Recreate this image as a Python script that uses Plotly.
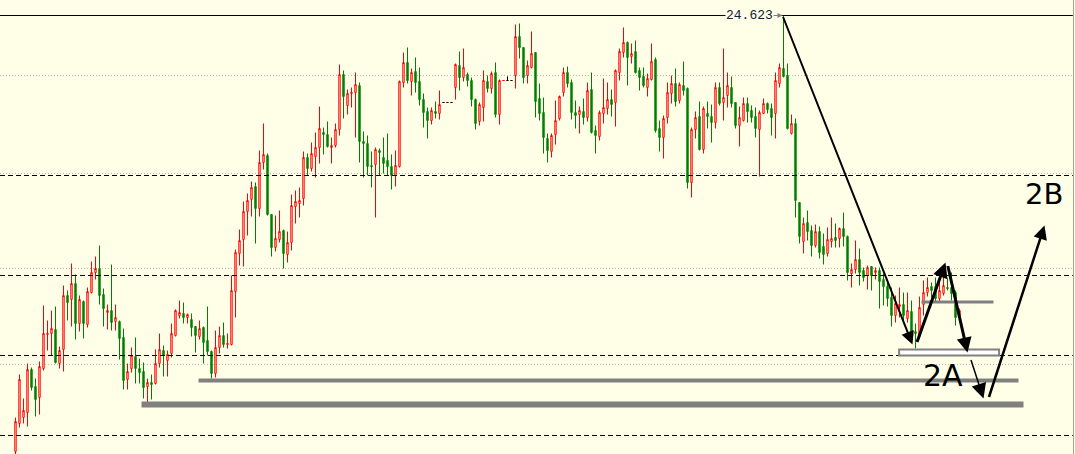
import plotly.graph_objects as go

BG = "#FFFFE8"
UP = "#FF0000"
DOWN = "#008000"

# ---- candle data (XAGUSD-like) ----
opens = [
    20.263, 20.543, 20.603, 20.653, 21.083, 20.913, 20.803, 21.093, 21.433, 21.443,
    21.483, 21.143, 21.283, 21.823, 21.783, 21.943, 21.543, 21.763, 21.533, 21.853,
    22.053, 22.093, 21.833, 21.653, 21.673, 21.563, 21.563, 21.403, 20.983, 21.093,
    21.213, 21.093, 21.063, 20.913, 20.953, 20.943, 21.143, 21.273, 21.173, 21.243,
    21.423, 21.623, 21.643, 21.603, 21.583, 21.513, 21.413, 21.503, 21.373, 21.263,
    21.043, 21.303, 21.423, 21.333, 21.333, 21.863, 22.243, 22.383, 22.663, 22.783,
    22.913, 22.693, 23.153, 23.223, 22.633, 22.303, 22.383, 22.473, 22.233, 22.353,
    22.713, 22.743, 22.793, 23.203, 23.093, 23.213, 23.303, 23.453, 23.433, 23.303,
    23.323, 23.483, 24.033, 23.723, 23.843, 23.853, 23.923, 23.363, 23.343, 23.123,
    23.133, 23.273, 23.203, 23.173, 23.113, 23.023, 23.113, 23.953, 24.153, 23.963,
    24.063, 23.963, 23.783, 23.663, 23.573, 23.663, 23.643, 23.753, 23.753, 23.753,
    23.903, 24.123, 24.003, 24.033, 23.973, 23.783, 23.563, 23.703, 23.963, 23.893,
    24.053, 23.633, 23.973, 23.973, 23.973, 24.023, 24.413, 24.303, 24.023, 24.103,
    24.253, 23.793, 23.653, 23.393, 23.263, 23.433, 23.593, 23.853, 24.053, 23.953,
    23.653, 23.633, 23.663, 23.603, 23.883, 23.473, 23.413, 23.643, 23.693, 23.783,
    23.753, 24.053, 24.253, 24.353, 24.213, 24.263, 24.073, 24.013, 23.903, 23.983,
    24.183, 23.493, 23.403, 23.603, 23.843, 23.943, 23.773, 23.923, 23.893, 22.953,
    23.483, 23.613, 23.283, 23.643, 23.613, 23.553, 23.903, 23.753, 23.823, 23.903,
    23.753, 23.523, 23.573, 23.743, 23.673, 23.613, 23.483, 23.643, 23.743, 23.693,
    23.643, 23.943, 24.093, 24.023, 23.443, 23.543, 22.753, 22.363, 22.553, 22.473,
    22.323, 22.463, 22.313, 22.243, 22.363, 22.403, 22.393, 22.493, 22.413, 22.043,
    22.083, 22.183, 22.073, 22.023, 22.113, 22.053, 22.073, 21.983, 21.913, 21.803,
    21.623, 21.713, 21.733, 21.593, 21.663, 21.463, 21.413, 21.733, 21.853, 21.913,
    21.913, 21.793, 21.843, 21.903, 21.903, 21.853, 21.603,
]
highs = [
    20.603, 21.033, 20.793, 21.143, 21.103, 20.993, 21.163, 21.723, 21.573, 21.673,
    21.713, 21.313, 21.923, 21.873, 22.143, 22.033, 21.823, 21.773, 21.903, 22.163,
    22.213, 22.323, 21.893, 21.733, 22.133, 21.733, 21.573, 21.493, 21.143, 21.303,
    21.403, 21.193, 21.153, 20.993, 21.033, 21.283, 21.443, 21.323, 21.273, 21.543,
    21.683, 21.773, 21.753, 21.643, 21.643, 21.513, 21.573, 21.513, 21.713, 21.273,
    21.473, 21.513, 21.553, 21.443, 22.023, 22.283, 22.483, 22.763, 22.843, 22.963,
    22.953, 23.273, 23.543, 23.243, 22.633, 22.623, 22.673, 22.483, 22.463, 22.833,
    22.873, 22.903, 23.263, 23.243, 23.353, 23.453, 23.713, 23.503, 23.563, 23.403,
    23.543, 24.133, 24.073, 23.883, 23.903, 24.053, 23.953, 23.463, 23.423, 23.263,
    23.303, 23.293, 23.403, 23.443, 23.233, 23.273, 23.973, 24.253, 24.303, 24.093,
    24.203, 24.103, 23.843, 23.703, 23.703, 23.763, 23.873, 23.753, 23.753, 23.753,
    24.143, 24.263, 24.293, 24.053, 24.003, 23.793, 23.753, 24.073, 24.023, 24.063,
    24.153, 23.983, 23.973, 24.013, 23.973, 24.533, 24.543, 24.303, 24.173, 24.463,
    24.253, 23.943, 23.803, 23.443, 23.443, 23.773, 23.823, 24.103, 24.113, 23.983,
    23.773, 23.713, 23.793, 23.953, 24.053, 23.523, 23.673, 23.993, 23.953, 23.883,
    24.083, 24.293, 24.503, 24.363, 24.343, 24.373, 24.103, 24.103, 24.043, 24.343,
    24.203, 23.573, 23.623, 23.953, 24.023, 24.093, 23.953, 24.163, 23.903, 23.503,
    23.663, 23.763, 23.713, 23.763, 23.733, 23.953, 23.953, 24.293, 24.053, 24.013,
    23.753, 23.713, 23.803, 23.803, 23.723, 23.703, 23.673, 23.793, 23.753, 23.743,
    24.053, 24.143, 24.623, 24.143, 23.633, 23.593, 22.753, 22.603, 22.673, 22.523,
    22.533, 22.513, 22.443, 22.503, 22.603, 22.543, 22.503, 22.653, 22.423, 22.143,
    22.373, 22.293, 22.103, 22.123, 22.113, 22.103, 22.103, 22.043, 21.973, 21.903,
    21.823, 21.903, 21.853, 21.853, 21.773, 21.543, 21.813, 21.973, 22.003, 21.953,
    22.003, 22.003, 22.043, 21.993, 22.053, 21.873, 21.693,
]
lows = [
    20.193, 20.503, 20.543, 20.513, 20.873, 20.613, 20.633, 21.073, 21.273, 21.223,
    21.143, 21.093, 21.063, 21.573, 21.513, 21.383, 21.463, 21.393, 21.503, 21.843,
    21.983, 21.733, 21.513, 21.483, 21.473, 21.473, 21.183, 20.883, 20.883, 21.053,
    20.943, 20.943, 20.793, 20.753, 20.783, 20.933, 21.103, 21.013, 21.013, 21.203,
    21.413, 21.593, 21.543, 21.543, 21.413, 21.253, 21.383, 21.143, 21.223, 20.993,
    21.003, 21.243, 21.303, 21.293, 21.323, 21.603, 22.123, 22.113, 22.423, 22.613,
    22.343, 22.613, 23.083, 22.623, 22.213, 22.263, 22.353, 22.093, 22.153, 22.273,
    22.543, 22.603, 22.723, 23.023, 23.063, 23.003, 23.143, 23.233, 23.303, 23.143,
    23.303, 23.423, 23.593, 23.633, 23.703, 23.403, 23.153, 23.003, 23.023, 22.903,
    22.603, 23.023, 23.043, 23.023, 22.883, 22.913, 23.103, 23.903, 23.943, 23.823,
    23.853, 23.723, 23.503, 23.393, 23.533, 23.593, 23.583, 23.753, 23.753, 23.753,
    23.783, 23.873, 23.963, 23.913, 23.713, 23.483, 23.523, 23.563, 23.853, 23.843,
    23.603, 23.533, 23.973, 23.973, 23.973, 23.893, 24.193, 23.943, 23.943, 24.093,
    23.603, 23.573, 23.243, 23.153, 23.203, 23.333, 23.573, 23.813, 23.903, 23.583,
    23.493, 23.443, 23.533, 23.563, 23.443, 23.243, 23.373, 23.543, 23.633, 23.613,
    23.513, 23.973, 24.203, 23.923, 24.143, 24.043, 23.873, 23.903, 23.813, 23.973,
    23.453, 23.263, 23.193, 23.543, 23.743, 23.713, 23.743, 23.823, 22.893, 22.803,
    23.393, 23.273, 23.243, 23.493, 23.353, 23.493, 23.723, 23.573, 23.703, 23.703,
    23.493, 23.313, 23.563, 23.553, 23.553, 23.403, 23.013, 23.643, 23.643, 23.423,
    23.393, 23.903, 24.003, 23.483, 23.433, 22.603, 22.343, 22.243, 22.373, 22.213,
    22.303, 22.193, 22.133, 22.213, 22.303, 22.303, 22.303, 22.313, 21.973, 21.903,
    22.043, 21.923, 21.963, 21.883, 21.873, 21.983, 21.693, 21.723, 21.713, 21.513,
    21.553, 21.603, 21.573, 21.553, 21.373, 21.293, 21.393, 21.623, 21.813, 21.803,
    21.753, 21.753, 21.823, 21.873, 21.773, 21.523, 21.553,
]
closes = [
    20.563, 20.983, 20.673, 21.083, 20.903, 20.783, 21.113, 21.443, 21.443, 21.493,
    21.153, 21.273, 21.823, 21.753, 21.943, 21.543, 21.783, 21.543, 21.863, 22.053,
    22.093, 21.823, 21.693, 21.673, 21.553, 21.603, 21.393, 20.973, 21.063, 21.223,
    21.093, 21.053, 20.903, 20.953, 20.933, 21.143, 21.283, 21.223, 21.233, 21.443,
    21.673, 21.653, 21.603, 21.633, 21.503, 21.423, 21.493, 21.353, 21.263, 21.043,
    21.303, 21.423, 21.333, 21.343, 21.873, 22.253, 22.373, 22.663, 22.773, 22.903,
    22.693, 23.153, 23.233, 22.633, 22.303, 22.393, 22.463, 22.243, 22.353, 22.723,
    22.763, 22.773, 23.203, 23.093, 23.243, 23.303, 23.493, 23.433, 23.313, 23.323,
    23.483, 24.033, 23.813, 23.843, 23.853, 23.933, 23.363, 23.343, 23.113, 23.113,
    23.283, 23.253, 23.143, 23.113, 23.023, 23.123, 23.963, 24.153, 23.973, 24.053,
    23.953, 23.783, 23.653, 23.573, 23.673, 23.643, 23.733, 23.753, 23.753, 23.753,
    24.133, 24.003, 24.103, 23.973, 23.783, 23.543, 23.733, 23.973, 23.893, 24.043,
    23.633, 23.973, 23.973, 23.973, 23.973, 24.413, 24.303, 24.003, 24.123, 24.243,
    23.763, 23.643, 23.403, 23.273, 23.423, 23.573, 23.813, 24.053, 23.943, 23.653,
    23.623, 23.673, 23.603, 23.873, 23.453, 23.423, 23.653, 23.703, 23.783, 23.733,
    24.073, 24.263, 24.353, 24.203, 24.243, 24.053, 24.003, 23.923, 23.993, 24.163,
    23.473, 23.403, 23.593, 23.853, 23.943, 23.763, 23.933, 23.873, 22.953, 23.483,
    23.603, 23.283, 23.693, 23.613, 23.553, 23.903, 23.743, 23.803, 23.923, 23.743,
    23.523, 23.603, 23.743, 23.663, 23.603, 23.493, 23.653, 23.743, 23.683, 23.603,
    23.973, 24.103, 24.013, 23.493, 23.543, 22.773, 22.413, 22.543, 22.463, 22.323,
    22.463, 22.253, 22.233, 22.383, 22.393, 22.373, 22.493, 22.413, 22.053, 22.083,
    22.183, 22.053, 22.003, 22.103, 22.023, 22.073, 21.963, 21.913, 21.793, 21.623,
    21.743, 21.733, 21.623, 21.673, 21.453, 21.443, 21.703, 21.853, 21.903, 21.873,
    21.793, 21.873, 21.923, 21.893, 21.843, 21.603, 21.673,
]
# bars where open == close, drawn as flat dashes in their own colour
flat_black = [107, 108, 109, 123, 124]
flat_red = [122]

# ---- levels drawn on the chart ----
high_level = 24.623
high_label = "24.623"
grid_levels = [24.023, 23.043, 22.093, 21.133]      # light dotted
dashed_levels = [23.023, 22.023, 21.223, 20.423]    # black dashed
support_a = 20.973
support_b = 20.733
box_low, box_high = 21.223, 21.283
mid_level = 21.758

x = list(range(len(opens)))

fig = go.Figure()
fig.add_trace(go.Candlestick(
    x=x, open=opens, high=highs, low=lows, close=closes,
    increasing=dict(line=dict(color=UP, width=1), fillcolor=BG),
    decreasing=dict(line=dict(color=DOWN, width=1), fillcolor=DOWN),
    whiskerwidth=0, hoverinfo="skip", showlegend=False,
))
for idx, col in ((flat_black, "#000000"), (flat_red, UP)):
    fig.add_trace(go.Candlestick(
        x=[x[i] for i in idx], open=[opens[i] for i in idx], high=[highs[i] for i in idx],
        low=[lows[i] for i in idx], close=[closes[i] for i in idx],
        increasing=dict(line=dict(color=col, width=1), fillcolor=col),
        decreasing=dict(line=dict(color=col, width=1), fillcolor=col),
        whiskerwidth=0, hoverinfo="skip", showlegend=False,
    ))

shapes = []
for lv in grid_levels:
    shapes.append(dict(type="line", xref="paper", x0=0, x1=0.998, yref="y", y0=lv, y1=lv,
                       line=dict(color="#B8B8B8", width=1, dash="1px,2px"), layer="below"))
for lv in dashed_levels:
    shapes.append(dict(type="line", xref="paper", x0=0, x1=0.998, yref="y", y0=lv, y1=lv,
                       line=dict(color="#000000", width=1, dash="5px,3px")))
shapes.append(dict(type="line", xref="paper", x0=0, x1=0.998, yref="y", y0=high_level, y1=high_level,
                   line=dict(color="#000000", width=1)))
shapes.append(dict(type="line", xref="x", x0=45.75, x1=250.75, yref="y", y0=support_a, y1=support_a,
                   line=dict(color="#808080", width=4)))
shapes.append(dict(type="line", xref="x", x0=31.5, x1=252, yref="y", y0=support_b, y1=support_b,
                   line=dict(color="#808080", width=6)))
shapes.append(dict(type="rect", xref="x", x0=220.9, x1=245.9, yref="y", y0=box_low, y1=box_high,
                   line=dict(color="#808080", width=2), fillcolor="#FFFFFF"))
shapes.append(dict(type="line", xref="x", x0=226.5, x1=244.5, yref="y", y0=mid_level, y1=mid_level,
                   line=dict(color="#808080", width=3)))
shapes.append(dict(type="line", xref="paper", x0=0.9986, x1=0.9986, yref="paper", y0=0, y1=1,
                   line=dict(color="#A0A0A0", width=1)))

def arrow(tail, head, width, size=1.0, color="#000000", style=2):
    return dict(x=head[0], y=head[1], ax=tail[0], ay=tail[1], xref="x", yref="y",
                axref="x", ayref="y", text="", showarrow=True, arrowhead=style,
                arrowsize=size, arrowwidth=width, arrowcolor=color, standoff=0, startstandoff=0)

annotations = [
    arrow((191.75, high_level), (224.25, 21.333), 2, 1.3),
    arrow((225.25, 21.343), (232.5, 22.153), 3, 1.0),
    arrow((233.0, 22.133), (238.0, 21.253), 3, 1.0),
    arrow((238.75, 21.193), (242.0, 20.793), 1.5, 2.0),
    arrow((243.25, 20.793), (257.25, 22.523), 2.5, 1.1),
    arrow((188.75, high_level), (191.75, high_level), 1, 1.0, "#808080", 2),
    dict(x=183.5, y=high_level, xref="x", yref="y", text=high_label, showarrow=False,
         font=dict(family="Liberation Mono", size=13, color="#0F2040"), bgcolor=BG, borderpad=0),
    dict(x=257, y=22.843, xref="x", yref="y", text="2B", showarrow=False,
         font=dict(family="DejaVu Sans", size=29, color="#000000")),
    dict(x=231.75, y=21.023, xref="x", yref="y", text="2A", showarrow=False,
         font=dict(family="DejaVu Sans", size=30, color="#000000")),
]

fig.update_layout(
    width=1075, height=454, autosize=False,
    margin=dict(l=0, r=0, t=0, b=0, pad=0),
    paper_bgcolor=BG, plot_bgcolor=BG,
    showlegend=False, boxmode="overlay", boxgap=0.5,
    shapes=shapes, annotations=annotations,
    xaxis=dict(range=[-3.875, 264.875], visible=False, showgrid=False, zeroline=False,
               rangeslider=dict(visible=False), fixedrange=True),
    yaxis=dict(range=[20.238, 24.778], visible=False, showgrid=False, zeroline=False,
               fixedrange=True),
)

fig.write_html(
    "out.html",
    config={"displayModeBar": False},
    post_script="document.body.style.margin='0';document.body.style.padding='0';",
)
